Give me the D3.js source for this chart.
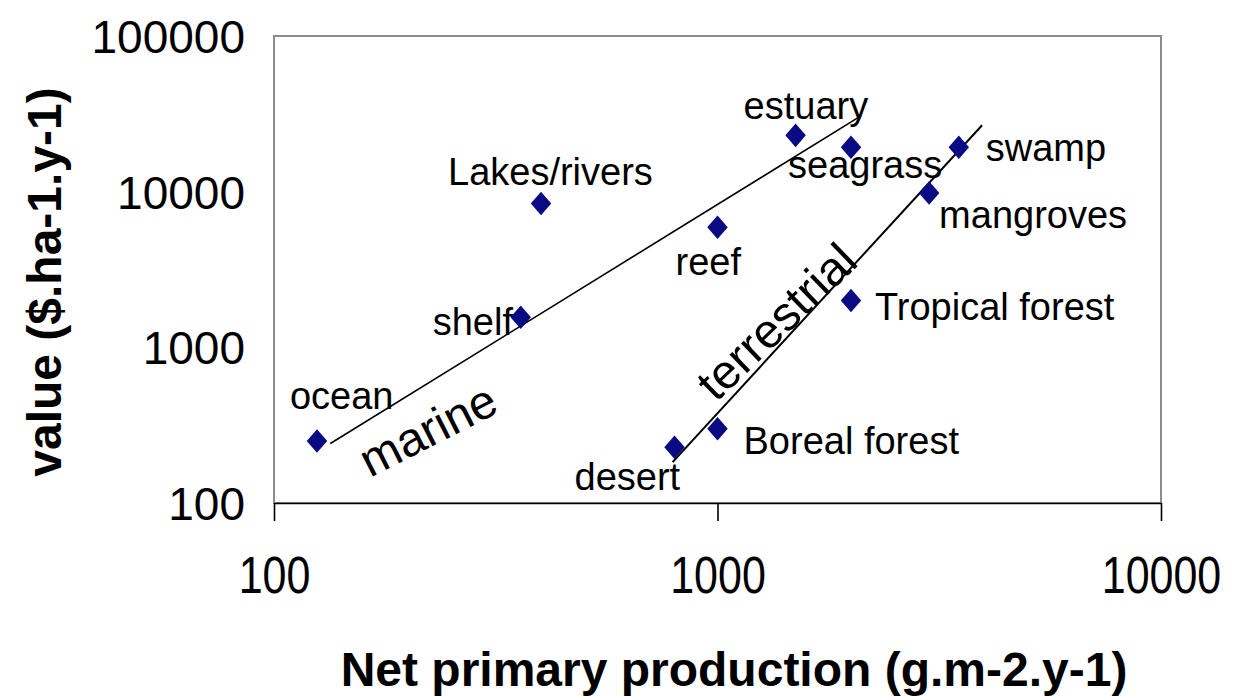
<html>
<head>
<style>
  body { margin: 0; background: #fff; }
  svg { font-family: "Liberation Sans", Arial, sans-serif; }
  .frame { fill: none; stroke: #8c8c8c; stroke-width: 2px; }
  .axis path, .axis line { stroke: #000; stroke-width: 1.6px; }
  .axis text { font-size: 46px; fill: #000; }
  .fit { fill: none; stroke: #000; stroke-width: 1.6px; }
  .lbl { font-size: 38px; fill: #000; }
  .group { font-size: 48px; fill: #000; }
  .title { font-size: 48px; font-weight: bold; fill: #000; }
</style>
<script src="https://cdnjs.cloudflare.com/ajax/libs/d3/7.8.5/d3.min.js"></script>
</head>
<body>
<script>
// ecosystems: net primary production (g/m2/y) vs value ($/ha/y)
var names = ["ocean", "shelf", "Lakes/rivers", "estuary", "seagrass", "swamp",
             "mangroves", "reef", "Tropical forest", "Boreal forest", "desert"];
var npp   = [125, 360, 400, 1500, 2000, 3500, 3000, 1000, 2000, 1000, 800];
var value = [250, 1560, 8400, 23000, 19300, 19300, 9800, 5900, 2000, 300, 228];

// fitted lines (end points)
var marineFit      = [[134, 241], [2110, 30800]];
var terrestrialFit = [[792, 183], [3950, 26700]];

var xTicks = [100, 1000, 10000];
var yTicks = [100, 1000, 10000, 100000];

// label offsets from each point, in pixels
var labelOffsets = [[-27, -32], [-88, 18], [-93, -18], [-52, -16], [-63, 31], [27, 14],
                    [10, 35], [-42, 48], [24, 20], [26, 25], [-100, 43]];

var width = 1239, height = 697;
var plotLeft = 274, plotTop = 36, plotRight = 1161, plotBottom = 503;

var svg = d3.select("body").append("svg")
    .attr("width", width)
    .attr("height", height);

var x = d3.scaleLog().domain([100, 10000]).range([plotLeft, plotRight]);
var y = d3.scaleLog().domain([100, 100000]).range([plotBottom, plotTop]);

// plot border
svg.append("rect")
    .attr("class", "frame")
    .attr("x", plotLeft).attr("y", plotTop)
    .attr("width", plotRight - plotLeft).attr("height", plotBottom - plotTop);

// x axis
var xAxis = svg.append("g")
    .attr("class", "axis")
    .attr("transform", "translate(0," + plotBottom + ")")
    .call(d3.axisBottom(x).tickValues(xTicks).tickFormat(d3.format("d"))
        .tickSizeInner(18).tickSizeOuter(0).tickPadding(0));
// labels look a bit stretched vertically in the original
xAxis.selectAll("text")
    .attr("dy", null).attr("y", 0)
    .style("font-size", "43px")
    .attr("transform", "translate(0,90) scale(1,1.2)");

// y axis (labels only, the border is the line)
var yAxis = svg.append("g")
    .attr("class", "axis")
    .attr("transform", "translate(" + plotLeft + ",0)")
    .call(d3.axisLeft(y).tickValues(yTicks).tickFormat(d3.format("d"))
        .tickSize(0).tickPadding(29));
yAxis.select(".domain").remove();
yAxis.selectAll("text").attr("dy", "0.36em");

// fit lines
var line = d3.line().x(d => x(d[0])).y(d => y(d[1]));
svg.append("path").attr("class", "fit").attr("d", line(marineFit));
svg.append("path").attr("class", "fit").attr("d", line(terrestrialFit)).style("stroke-width", "2px");

// diamonds
var diamond = {
    draw: function(ctx, size) {
        var w = Math.sqrt(size) / 2, h = w * 1.15;
        ctx.moveTo(0, -h); ctx.lineTo(w, 0); ctx.lineTo(0, h); ctx.lineTo(-w, 0); ctx.closePath();
    }
};
svg.append("g").selectAll("path")
    .data(names)
    .enter()
    .append("path")
    .attr("transform", (d, i) => "translate(" + x(npp[i]) + "," + y(value[i]) + ")")
    .attr("d", d3.symbol().type(diamond).size(420))
    .attr("fill", "#0a0a84");

// point labels
svg.append("g").selectAll("text")
    .data(names)
    .enter()
    .append("text")
    .attr("class", "lbl")
    .attr("x", (d, i) => x(npp[i]) + labelOffsets[i][0])
    .attr("y", (d, i) => y(value[i]) + labelOffsets[i][1])
    .text(d => d);

// group labels along the lines
svg.append("text")
    .attr("class", "group")
    .attr("transform", "translate(370,478) rotate(-27)")
    .text("marine");
svg.append("text")
    .attr("class", "group")
    .attr("transform", "translate(716,403) rotate(-44)")
    .text("terrestrial");

// axis titles
svg.append("text")
    .attr("class", "title")
    .attr("x", 734).attr("y", 686)
    .attr("text-anchor", "middle")
    .text("Net primary production (g.m-2.y-1)");
svg.append("text")
    .attr("class", "title")
    .attr("transform", "translate(61,282) rotate(-90)")
    .attr("text-anchor", "middle")
    .text("value ($.ha-1.y-1)");
</script>
</body>
</html>
